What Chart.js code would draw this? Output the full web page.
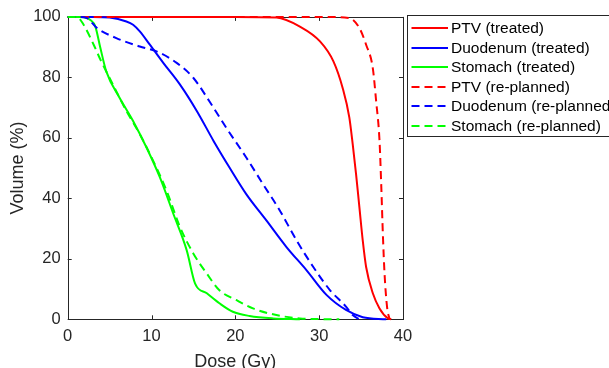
<!DOCTYPE html>
<html>
<head>
<meta charset="utf-8">
<script src="https://cdn.jsdelivr.net/npm/chart.js@4"></script>
<style>
  html, body { margin: 0; padding: 0; background: #fff; overflow: hidden; }
  #wrap { width: 609px; height: 368px; }
</style>
</head>
<body>
<div id="wrap"><canvas id="dvhChart" width="609" height="368"></canvas></div>
<script>
"use strict";

// Dose (Gy) / Volume (%) points
var ptvTreatedDose   = [0, 10, 20, 24.9, 27.7, 30.1, 31.7, 32.8, 33.6, 34.0, 34.4, 34.8, 35.2, 35.6, 36.4, 37.2, 38.2, 38.6];
var ptvTreatedVol    = [100, 100, 100, 99.8, 96.8, 91.9, 85.3, 76.5, 66.7, 57.9, 48, 37, 26, 17.3, 8.6, 3.6, 0.3, 0];

var duoTreatedDose   = [0, 3, 5.0, 7.0, 7.8, 8.6, 9.8, 11.4, 13.4, 15.4, 17.4, 19.3, 21.3, 23.7, 26.1, 28.5, 30.9, 33.2, 35.2, 38];
var duoTreatedVol    = [100, 100, 99.8, 98.5, 97.4, 95.2, 90.8, 84.8, 77.6, 68.9, 59, 50.2, 41.4, 32.7, 23.9, 16.2, 8, 3.1, 0.7, 0];

var stoTreatedDose   = [0, 1.5, 2.7, 3.3, 3.9, 4.6, 6.2, 7.8, 9.4, 11.0, 12.6, 14.2, 15.2, 16.6, 18.1, 19.7, 21.7, 24.5, 27.7];
var stoTreatedVol    = [100, 100, 99, 96.8, 89.7, 82, 73.2, 65.6, 56.8, 46.9, 34.9, 22.8, 11.8, 8.6, 5.3, 2.5, 1.1, 0.3, 0];

var ptvReplanDose    = [0, 10, 20, 30, 33.6, 34.8, 35.6, 36.4, 36.8, 37.2, 37.4, 37.6, 37.8, 38.1, 38.4];
var ptvReplanVol     = [100, 100, 100, 100, 99.6, 96.3, 90.8, 83, 72, 59, 44.7, 28, 15, 4, 0];

var duoReplanDose    = [0, 1.5, 2.3, 3.5, 5.8, 8.6, 10.6, 13.0, 15.0, 16.9, 18.9, 21.3, 23.3, 25.3, 27.3, 29.3, 31.3, 33.2, 34.0, 34.8];
var duoReplanVol     = [100, 100, 99.6, 96.3, 93, 90.2, 88.6, 84.8, 79.8, 72.1, 63.4, 53.5, 44.7, 36, 26.1, 17.3, 9.6, 4.2, 1.4, 0];

var stoReplanDose    = [0, 1.1, 1.9, 3.1, 3.9, 5.4, 7.0, 8.6, 10.2, 11.8, 13.4, 15.0, 16.6, 18.1, 20.1, 22.1, 24.9, 27.7, 32.4];
var stoReplanVol     = [100, 100, 97.4, 90.8, 85.9, 77.6, 68.9, 61.2, 52.4, 42.5, 30.5, 21.7, 15.1, 9.6, 6.4, 3.6, 1.4, 0.3, 0];

var seriesLabels = ['PTV (treated)', 'Duodenum (treated)', 'Stomach (treated)',
                    'PTV (re-planned)', 'Duodenum (re-planned)', 'Stomach (re-planned)'];
var seriesColors = ['#ff0000', '#0000ff', '#00ff00', '#ff0000', '#0000ff', '#00ff00'];
var seriesDashed = [false, false, false, true, true, true];
var seriesDose = [ptvTreatedDose, duoTreatedDose, stoTreatedDose, ptvReplanDose, duoReplanDose, stoReplanDose];
var seriesVol  = [ptvTreatedVol, duoTreatedVol, stoTreatedVol, ptvReplanVol, duoReplanVol, stoReplanVol];

var xTicks = [0, 10, 20, 30, 40];
var yTicks = [0, 20, 40, 60, 80, 100];

var axisColor = '#262626';
var fontFamily = "'Liberation Sans', Arial, sans-serif";
var dashPattern = [8, 5];

function toPoints(xs, ys) {
    return xs.map(function(x, i) { return { x: x, y: ys[i] }; });
}

var datasets = seriesLabels.map(function(label, i) {
    return {
        label: label,
        data: toPoints(seriesDose[i], seriesVol[i]),
        borderColor: seriesColors[i],
        backgroundColor: seriesColors[i],
        borderWidth: 2,
        borderDash: seriesDashed[i] ? dashPattern : [],
        pointRadius: 0,
        showLine: true,
        fill: false,
        clip: 3,
        cubicInterpolationMode: 'monotone',
        order: seriesLabels.length - 1 - i
    };
});

// box + inward ticks on all four sides, drawn under the curves
var boxPlugin = {
    id: 'boxPlugin',
    beforeDatasetsDraw: function(chart) {
        var ctx = chart.ctx;
        var a = chart.chartArea;
        var xs = chart.scales.x, ys = chart.scales.y;
        var len = 4;
        ctx.save();
        ctx.strokeStyle = axisColor;
        ctx.lineWidth = 1;
        ctx.beginPath();
        xTicks.forEach(function(v) {
            var px = Math.round(xs.getPixelForValue(v)) + 0.5;
            ctx.moveTo(px, a.bottom); ctx.lineTo(px, a.bottom - len);
            ctx.moveTo(px, a.top); ctx.lineTo(px, a.top + len);
        });
        yTicks.forEach(function(v) {
            var py = Math.round(ys.getPixelForValue(v)) + 0.5;
            ctx.moveTo(a.left, py); ctx.lineTo(a.left + len, py);
            ctx.moveTo(a.right, py); ctx.lineTo(a.right - len, py);
        });
        ctx.stroke();
        ctx.strokeRect(Math.round(a.left) + 0.5, Math.round(a.top) + 0.5,
                       Math.round(a.right - a.left), Math.round(a.bottom - a.top));
        ctx.restore();
    }
};

// legend box at the right, partly cut by the canvas edge
var legendPlugin = {
    id: 'legendBox',
    afterDraw: function(chart) {
        var ctx = chart.ctx;
        var bx = 407.5, by = 15.5, bw = 260, bh = 121;
        var rowY0 = 28, rowStep = 19.6;
        ctx.save();
        ctx.fillStyle = '#fff';
        ctx.fillRect(bx, by, bw, bh);
        ctx.strokeStyle = axisColor;
        ctx.lineWidth = 1;
        ctx.strokeRect(bx, by, bw, bh);
        ctx.font = '15.5px ' + fontFamily;
        ctx.textBaseline = 'middle';
        ctx.textAlign = 'left';
        chart.data.datasets.forEach(function(ds, i) {
            var y = Math.round(rowY0 + i * rowStep);
            ctx.strokeStyle = ds.borderColor;
            ctx.lineWidth = 2;
            ctx.setLineDash(ds.borderDash || []);
            ctx.beginPath();
            ctx.moveTo(411.5, y);
            ctx.lineTo(448, y);
            ctx.stroke();
            ctx.setLineDash([]);
            ctx.fillStyle = '#000';
            ctx.fillText(ds.label, 451, y + 1);
        });
        ctx.restore();
    }
};

var ctxDvh = document.getElementById('dvhChart').getContext('2d');
new Chart(ctxDvh, {
    type: 'scatter',
    data: { datasets: datasets },
    options: {
        responsive: false,
        animation: false,
        layout: { padding: { top: 15, right: 206, left: 0, bottom: 0 } },
        plugins: {
            legend: { display: false },
            tooltip: { enabled: false }
        },
        scales: {
            x: {
                type: 'linear',
                min: 0,
                max: 40,
                afterBuildTicks: function(scale) {
                    scale.ticks = xTicks.map(function(v) { return { value: v }; });
                },
                afterFit: function(scale) { scale.height = 48.7; },
                grid: { display: false, drawTicks: false },
                border: { display: false },
                ticks: {
                    color: axisColor,
                    padding: 7,
                    maxRotation: 0,
                    font: { family: fontFamily, size: 16.5 }
                },
                title: {
                    display: true,
                    text: 'Dose (Gy)',
                    color: axisColor,
                    padding: { top: 0, bottom: -5 },
                    font: { family: fontFamily, size: 18 }
                }
            },
            y: {
                type: 'linear',
                min: 0,
                max: 100,
                afterBuildTicks: function(scale) {
                    scale.ticks = yTicks.map(function(v) { return { value: v }; });
                },
                afterFit: function(scale) { scale.width = 67.7; },
                grid: { display: false, drawTicks: false },
                border: { display: false },
                ticks: {
                    color: axisColor,
                    padding: 7,
                    font: { family: fontFamily, size: 16.5 }
                },
                title: {
                    display: true,
                    text: 'Volume (%)',
                    color: axisColor,
                    padding: { top: 7, bottom: 0 },
                    font: { family: fontFamily, size: 18 }
                }
            }
        }
    },
    plugins: [boxPlugin, legendPlugin]
});
</script>
</body>
</html>
